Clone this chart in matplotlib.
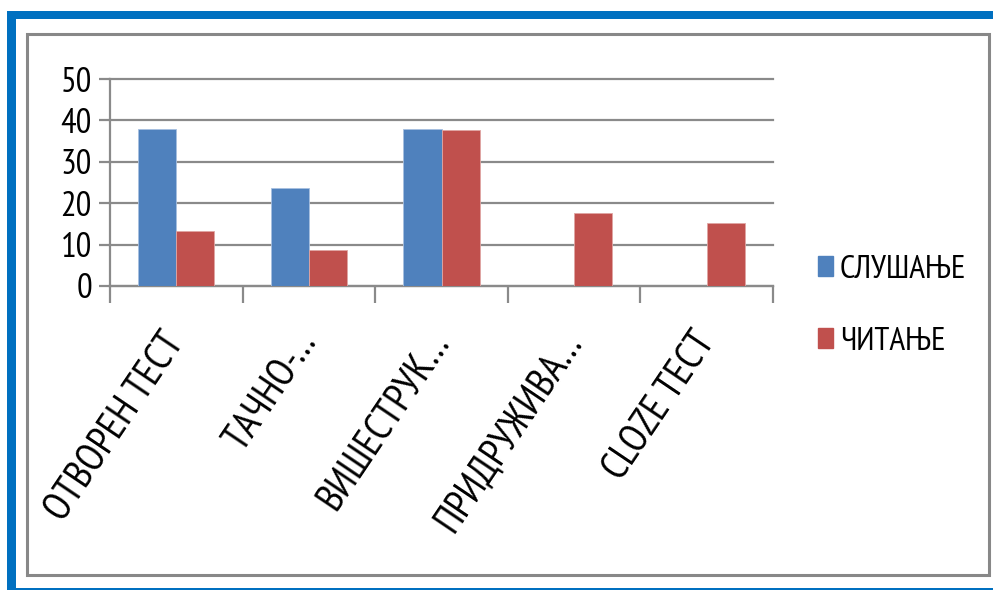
import matplotlib.pyplot as plt
from matplotlib.patches import Rectangle, Patch
import numpy as np

# подаци
kategorije = ['ОТВОРЕН ТЕСТ', 'ТАЧНО-…', 'ВИШЕСТРУК…', 'ПРИДРУЖИВА…', 'CLOZE ТЕСТ']
slusanje = [38, 23.6, 38, 0, 0]
citanje = [13.2, 8.8, 37.8, 17.7, 15.3]
y_ticks = [0, 10, 20, 30, 40, 50]

plt.rcParams['font.family'] = ['PT Sans Narrow', 'DejaVu Sans']

W, H = 993, 590
fig = plt.figure(figsize=(W / 100, H / 100), dpi=100)


def px_rect(x0, y0, x1, y1, **kw):
    # правоугаоник у пикселима (y одозго)
    r = Rectangle((x0 / W, 1 - y1 / H), (x1 - x0) / W, (y1 - y0) / H,
                  transform=fig.transFigure, **kw)
    fig.patches.append(r)


# плави оквир
plava = '#0070c0'
px_rect(7, 11, 993, 19, color=plava, lw=0)
px_rect(7, 11, 16, 590, color=plava, lw=0)
px_rect(7, 588, 993, 590, color=plava, lw=0)
# сиви оквир графикона
px_rect(27, 34, 989, 575, facecolor='none', edgecolor='#888888', lw=2.2)

ax = fig.add_axes([110 / W, 1 - 286 / H, (773 - 110) / W, (286 - 79) / H])

n = len(kategorije)
x = np.arange(n)
w = 0.287
ax.bar(x - w / 2, slusanje, w, color='#4f81bd', edgecolor='#a7bfe0', lw=0.6, zorder=3)
ax.bar(x + w / 2, citanje, w, color='#c0504d', edgecolor='#e0a5a3', lw=0.6, zorder=3)

ax.set_xlim(-0.5, n - 0.5)
ax.set_ylim(0, 50)
siva = '#8a8a8a'
ax.set_yticks(y_ticks)
ax.tick_params(axis='y', length=8, width=1.6, color=siva, labelsize=25, pad=5)
ax.yaxis.grid(True, color=siva, lw=1.6)
for gl in ax.get_ygridlines():
    gl.set_clip_on(False)
ax.set_axisbelow(True)

# подеоци на границама категорија, натписи на средини
ax.set_xticks(np.arange(n + 1) - 0.5)
ax.set_xticklabels([])
ax.tick_params(axis='x', which='major', length=12, width=1.6, color=siva)
ax.set_xticks(x, kategorije, minor=True)
ax.tick_params(axis='x', which='minor', length=0, labelsize=29, pad=36)
for t in ax.get_xticklabels(minor=True):
    t.set_rotation(56)
    t.set_ha('right')
    t.set_va('center')
    t.set_rotation_mode('anchor')

for s in ['top', 'right']:
    ax.spines[s].set_visible(False)
for s in ['left', 'bottom']:
    ax.spines[s].set_color(siva)
    ax.spines[s].set_linewidth(1.6)

ruke = [Patch(color='#4f81bd', label='СЛУШАЊЕ'), Patch(color='#c0504d', label='ЧИТАЊЕ')]
fig.legend(handles=ruke, loc='upper left', bbox_to_anchor=(818 / W, 1 - 255 / H),
           frameon=False, fontsize=24, handlelength=0.45, handleheight=0.55,
           handletextpad=0.2, labelspacing=1.25, borderaxespad=0, borderpad=0)

fig.savefig('out.png', dpi=100)
